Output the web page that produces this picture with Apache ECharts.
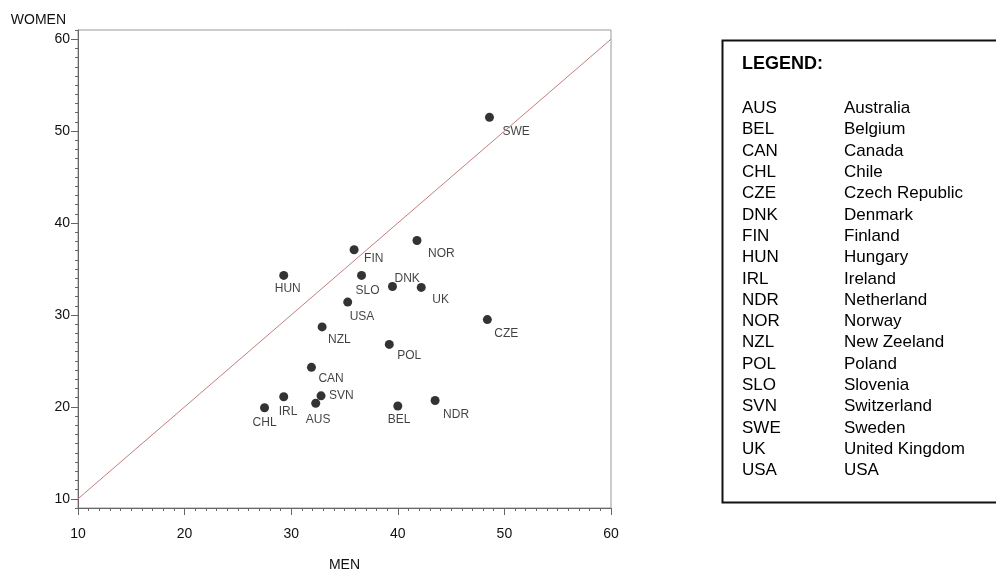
<!DOCTYPE html>
<html>
<head>
<meta charset="utf-8">
<script src="https://cdn.jsdelivr.net/npm/echarts@6/dist/echarts.min.js"></script>
<style>
html,body{margin:0;padding:0;background:#fff;}
#chart{width:996px;height:577px;}
</style>
</head>
<body>
<div id="chart"></div>
<script>
// ---- data ----
var codes = ['AUS','BEL','CAN','CHL','CZE','DNK','FIN','HUN','IRL','NDR','NOR','NZL','POL','SLO','SVN','SWE','UK','USA'];
var countryNames = ['Australia','Belgium','Canada','Chile','Czech Republic','Denmark','Finland','Hungary','Ireland','Netherland','Norway','New Zeeland','Poland','Slovenia','Switzerland','Sweden','United Kingdom','USA'];
var menValues   = [32.3, 40.0, 31.9, 27.5, 48.4, 39.5, 35.9, 29.3, 29.3, 43.5, 41.8, 32.9, 39.2, 36.6, 32.8, 48.6, 42.2, 35.3];
var womenValues = [20.4, 20.1, 24.3, 19.9, 29.5, 33.1, 37.1, 34.3, 21.1, 20.7, 38.1, 28.7, 26.8, 34.3, 21.2, 51.5, 33.0, 31.4];
var majorTicks = [10, 20, 30, 40, 50, 60];
var diagonalEnds = [10, 60];
var legendTitle = 'LEGEND:';
var xTitle = 'MEN';
var yTitle = 'WOMEN';

// ---- label placement (style only) ----
var labelOffsets = {
  AUS:[-10,16], BEL:[-10,14], CAN:[7,11], CHL:[-12,15], CZE:[7,14], DNK:[2,-8],
  FIN:[10,9], HUN:[-9,13], IRL:[-5,15], NDR:[8,14], NOR:[11,13], NZL:[6,13],
  POL:[8,11], SLO:[-6,15], SVN:[8,0], SWE:[13,14], UK:[11,12], USA:[2,15]
};

function range(a, b){ var r=[]; for(var v=a; v<=b; v++) r.push(v); return r; }

var points = codes.map(function(c, i){
  return {
    name: c,
    value: [menValues[i], womenValues[i]],
    label: { offset: labelOffsets[c] }
  };
});

var FONT = 'Liberation Sans, Arial, sans-serif';
var axisColor = '#666';

var legendGraphics = [];
var lx = 720, ly = 38;
legendGraphics.push({
  type: 'rect', left: lx, top: ly, silent: true,
  shape: { x: 0, y: 0, width: 300, height: 462 },
  style: { fill: 'none', stroke: '#111', lineWidth: 2 }
});
legendGraphics.push({
  type: 'text', x: 742, y: 64, silent: true,
  style: { text: legendTitle, fill: '#000', font: 'bold 18px ' + FONT, verticalAlign: 'middle' }
});
codes.forEach(function(c, i){
  var y = 108.5 + i * 21.3;
  legendGraphics.push({ type: 'text', x: 742, y: y, silent: true,
    style: { text: c, fill: '#000', font: '17px ' + FONT, verticalAlign: 'middle' } });
  legendGraphics.push({ type: 'text', x: 844, y: y, silent: true,
    style: { text: countryNames[i], fill: '#000', font: '17px ' + FONT, verticalAlign: 'middle' } });
});

var chart = echarts.init(document.getElementById('chart'), null, { renderer: 'canvas' });
chart.setOption({
  animation: false,
  backgroundColor: '#fff',
  grid: { left: 78, right: 385, top: 30, bottom: 66, show: true, borderColor: '#999', borderWidth: 1, containLabel: false },
  xAxis: [{
    type: 'value', min: 10, max: 60, position: 'bottom',
    axisLine: { show: true, lineStyle: { color: axisColor } },
    axisTick: { show: true, customValues: majorTicks, length: 7, lineStyle: { color: axisColor } },
    axisLabel: { customValues: majorTicks, margin: 19, fontSize: 14, fontFamily: FONT, color: '#111' },
    splitLine: { show: false },
    name: xTitle, nameLocation: 'middle', nameGap: 50,
    nameTextStyle: { fontSize: 14, fontFamily: FONT, color: '#111' }
  }, {
    type: 'value', min: 10, max: 60, position: 'bottom', gridIndex: 0, offset: 0,
    axisLine: { show: false },
    axisTick: { show: true, customValues: range(10, 60), length: 3, lineStyle: { color: axisColor } },
    axisLabel: { show: false }, splitLine: { show: false }
  }],
  yAxis: [{
    type: 'value', min: 9, max: 61, position: 'left',
    axisLine: { show: true, lineStyle: { color: axisColor } },
    axisTick: { show: true, customValues: majorTicks, length: 7, lineStyle: { color: axisColor } },
    axisLabel: { customValues: majorTicks, margin: 8, fontSize: 14, fontFamily: FONT, color: '#111' },
    splitLine: { show: false },
    name: yTitle, nameLocation: 'end', nameGap: 10,
    nameTextStyle: { fontSize: 14, fontFamily: FONT, color: '#111', align: 'right', verticalAlign: 'middle', padding: [0, 12, 0, 0] }
  }, {
    type: 'value', min: 9, max: 61, position: 'left', gridIndex: 0, offset: 0,
    axisLine: { show: false },
    axisTick: { show: true, customValues: range(9, 61), length: 3, lineStyle: { color: axisColor } },
    axisLabel: { show: false }, splitLine: { show: false }
  }],
  series: [{
    type: 'line', silent: true, symbol: 'none',
    data: [[diagonalEnds[0], diagonalEnds[0]], [diagonalEnds[1], diagonalEnds[1]]],
    lineStyle: { color: '#c47d7d', width: 1 }
  }, {
    type: 'scatter', symbol: 'circle', symbolSize: 9,
    itemStyle: { color: '#000' },
    data: points,
    label: {
      show: true, position: 'inside', align: 'left', verticalAlign: 'middle',
      formatter: function(p){ return p.name; },
      fontSize: 12, fontFamily: FONT, color: '#111'
    },
    emphasis: { disabled: true }
  }],
  graphic: legendGraphics
});
</script>
</body>
</html>
